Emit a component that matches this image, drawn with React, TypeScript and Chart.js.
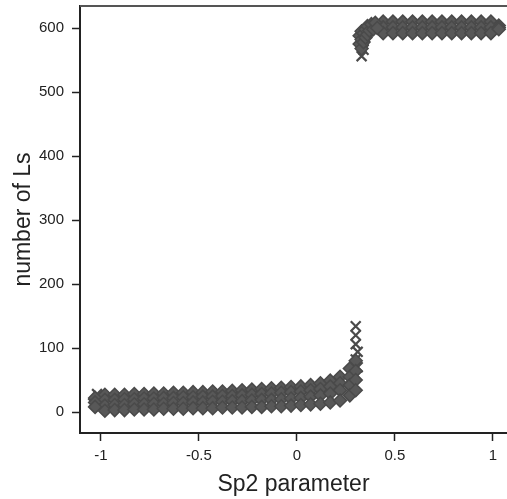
import React, { useEffect, useRef } from "react";
import { Chart, registerables } from "chart.js";
Chart.register(...registerables);

const xTickValues = [-1, -0.5, 0, 0.5, 1];
const yTickValues = [0, 100, 200, 300, 400, 500, 600];

// lower band (Sp2 < 0.32)
const lowX = [-1.03, -0.98, -0.93, -0.88, -0.83, -0.78, -0.73, -0.68, -0.63, -0.58, -0.53, -0.48, -0.43, -0.38, -0.33, -0.28, -0.23, -0.18, -0.13, -0.08, -0.03, 0.02, 0.07, 0.12, 0.17, 0.22, 0.27, 0.3];
const lowRow1 = [8, 2, 3, 3, 4, 4, 4, 5, 5, 5, 6, 6, 6, 7, 7, 7, 8, 8, 9, 9, 10, 11, 12, 13, 15, 18, 26, 34];
const lowRow2 = [15, 10, 11, 11, 12, 12, 13, 13, 14, 14, 15, 15, 16, 16, 17, 17, 18, 19, 19, 20, 21, 22, 24, 26, 29, 34, 42, 50];
const lowRow3 = [22, 19, 19, 20, 20, 21, 21, 22, 22, 23, 23, 24, 24, 25, 25, 26, 27, 28, 29, 30, 31, 32, 34, 36, 40, 45, 55, 64];
const lowRow4 = [20, 27, 27, 27, 28, 28, 29, 29, 30, 30, 31, 31, 32, 32, 33, 34, 35, 36, 37, 38, 39, 40, 42, 45, 49, 55, 68, 80];

// crosses in lower band
const lowCrossX = [-1.02, -1.0, 0.3, 0.3, 0.3, 0.31, 0.3, 0.31, 0.29];
const lowCrossY = [28, 12, 134, 120, 106, 94, 82, 70, 60];

// transition cluster near Sp2 = 0.33
const clusterX = [0.32, 0.32, 0.33, 0.33, 0.33, 0.34, 0.34, 0.35, 0.35, 0.36, 0.36, 0.37, 0.38, 0.39, 0.4, 0.41];
const clusterY = [575, 588, 568, 582, 595, 578, 592, 585, 598, 590, 603, 596, 606, 598, 608, 600];
const clusterCrossX = [0.33, 0.34, 0.34, 0.33];
const clusterCrossY = [556, 566, 580, 590];

// upper band (Sp2 > 0.4)
const upX = [0.44, 0.49, 0.54, 0.59, 0.64, 0.69, 0.74, 0.79, 0.84, 0.89, 0.94, 0.99, 1.03];
const upRow1 = [592, 592, 592, 592, 592, 592, 592, 592, 592, 592, 592, 592, 598];
const upRow2 = [601, 601, 601, 601, 601, 601, 601, 601, 601, 601, 601, 601, 601];
const upRow3 = [610, 610, 610, 610, 610, 610, 610, 610, 610, 610, 610, 610, 604];

const MARK = "#4a4a4a";
const FILL = "#585858";
const FONT = "'Liberation Sans', Arial, sans-serif";

function pts(xs: number[], ys: number[]) {
  return xs.map((x, i) => ({ x, y: ys[i] }));
}

function diamonds(xs: number[], ys: number[], filled: boolean) {
  return {
    data: pts(xs, ys),
    pointStyle: "rectRot" as const,
    pointRadius: 6.5,
    borderColor: MARK,
    backgroundColor: filled ? FILL : "rgba(0,0,0,0)",
    borderWidth: 1.5,
    showLine: false,
  };
}

function crosses(xs: number[], ys: number[]) {
  return {
    data: pts(xs, ys),
    pointStyle: "crossRot" as const,
    pointRadius: 7,
    borderColor: MARK,
    backgroundColor: MARK,
    borderWidth: 2.2,
    showLine: false,
  };
}

const topLine = {
  id: "topLine",
  afterDraw(chart: any) {
    const { ctx, chartArea } = chart;
    ctx.save();
    ctx.strokeStyle = "#555";
    ctx.lineWidth = 2;
    ctx.beginPath();
    ctx.moveTo(chartArea.left, chartArea.top);
    ctx.lineTo(chartArea.right, chartArea.top);
    ctx.stroke();
    ctx.restore();
  },
};

export default function App() {
  const ref = useRef<HTMLCanvasElement>(null);
  useEffect(() => {
    document.body.style.margin = "0";
    const chart = new Chart(ref.current!, {
      type: "scatter",
      data: {
        datasets: [
          diamonds(lowX, lowRow1, true),
          diamonds(lowX, lowRow2, true),
          diamonds(lowX, lowRow3, true),
          diamonds(lowX, lowRow4, true),
          crosses(lowCrossX, lowCrossY),
          diamonds(clusterX, clusterY, true),
          crosses(clusterCrossX, clusterCrossY),
          diamonds(upX, upRow1, true),
          diamonds(upX, upRow2, true),
          diamonds(upX, upRow3, true),
        ],
      },
      plugins: [topLine],
      options: {
        responsive: false,
        animation: false,
        layout: { autoPadding: false, padding: { top: 6, right: 0, left: 0, bottom: 0 } },
        plugins: { legend: { display: false }, tooltip: { enabled: false } },
        scales: {
          x: {
            type: "linear",
            min: -1.107,
            max: 1.072,
            afterBuildTicks: (s: any) => {
              s.ticks = xTickValues.map((v) => ({ value: v }));
            },
            afterFit: (s: any) => {
              s.height = 66;
              s.paddingLeft = 0;
              s.paddingRight = 0;
            },
            border: { display: true, color: "#222", width: 2 },
            grid: {
              display: true,
              drawOnChartArea: false,
              drawTicks: true,
              tickLength: 8,
              tickColor: "#222",
              tickWidth: 1.5,
            },
            ticks: {
              color: "#222",
              padding: 6,
              maxRotation: 0,
              font: { family: FONT, size: 15 },
              callback: (v: any) => String(v),
            },
            title: {
              display: true,
              text: "Sp2 parameter",
              color: "#222",
              padding: { top: 0, bottom: 1 },
              font: { family: FONT, size: 23 },
            },
          },
          y: {
            type: "linear",
            min: -32.8,
            max: 634.4,
            afterBuildTicks: (s: any) => {
              s.ticks = yTickValues.map((v) => ({ value: v }));
            },
            afterFit: (s: any) => {
              s.width = 80;
              s.paddingTop = 0;
              s.paddingBottom = 0;
            },
            border: { display: true, color: "#222", width: 2 },
            grid: {
              display: true,
              drawOnChartArea: false,
              drawTicks: true,
              tickLength: 8,
              tickColor: "#222",
              tickWidth: 1.5,
            },
            ticks: {
              color: "#222",
              padding: 8,
              font: { family: FONT, size: 15 },
            },
            title: {
              display: true,
              text: "number of Ls",
              color: "#222",
              padding: { top: 10, bottom: 0 },
              font: { family: FONT, size: 23 },
            },
          },
        },
      },
    });
    return () => chart.destroy();
  }, []);
  return (
    <div style={{ position: "absolute", left: 0, top: 0, width: 507, height: 499 }}>
      <canvas ref={ref} width={507} height={499} style={{ display: "block" }} />
    </div>
  );
}
